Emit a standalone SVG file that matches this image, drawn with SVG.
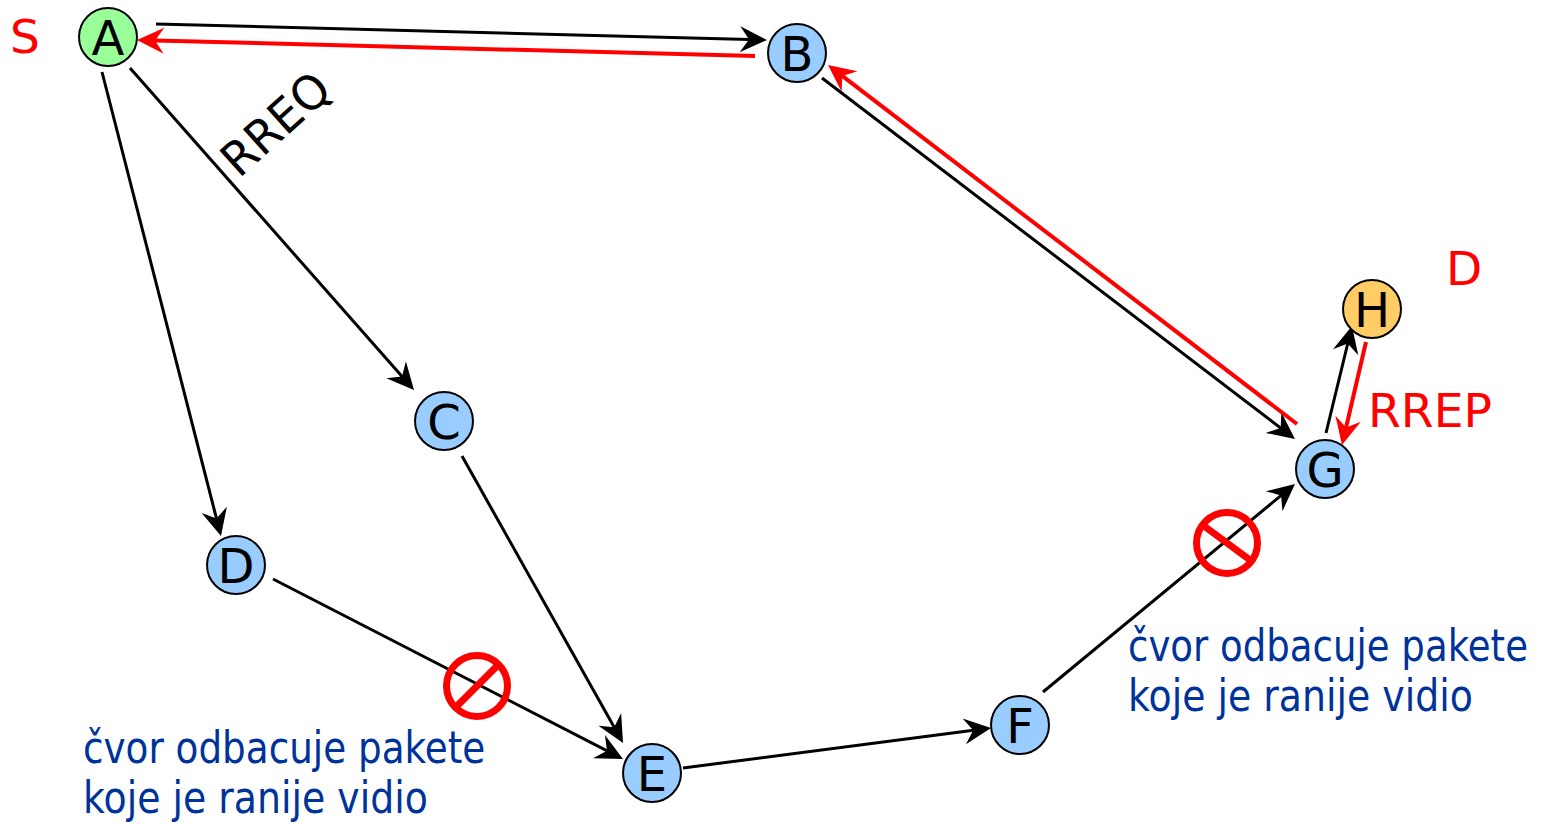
<svg xmlns="http://www.w3.org/2000/svg" width="1542" height="824" viewBox="0 0 1542 824">
<style>
.nd{stroke:#000;stroke-width:2}
.lb{font-family:"DejaVu Sans","Liberation Sans",sans-serif;font-size:48px;text-anchor:middle;fill:#000}
.rt{font-family:"DejaVu Sans","Liberation Sans",sans-serif;font-size:47px;fill:#FF0000}
.bt{font-family:"DejaVu Sans","Liberation Sans",sans-serif;font-size:44px;fill:#003399}
.k{stroke:#000;stroke-width:3;fill:none;marker-end:url(#ab)}
.r{stroke:#FF0000;stroke-width:4;fill:none;marker-end:url(#ar)}
.no{stroke:#FF0000;stroke-width:7;fill:none}
</style>
<defs>
<marker id="ab" markerUnits="userSpaceOnUse" viewBox="-22 -15 32 30" refX="0" refY="0" markerWidth="32" markerHeight="30" orient="auto"><path d="M8,0 L-19,-13 L-10,0 L-19,13 Z" fill="#000"/></marker>
<marker id="ar" markerUnits="userSpaceOnUse" viewBox="-22 -15 32 30" refX="0" refY="0" markerWidth="32" markerHeight="30" orient="auto"><path d="M8,0 L-19,-13 L-10,0 L-19,13 Z" fill="#FF0000"/></marker>
</defs>
<g id="connectors">
<line class="k" x1="156" y1="24" x2="759" y2="39.8"/>
<line class="r" x1="755" y1="56" x2="145" y2="40.2"/>
<line class="k" x1="130" y1="68" x2="408.7" y2="384"/>
<line class="k" x1="102" y1="72" x2="219" y2="528.3"/>
<line class="k" x1="822" y1="78" x2="1288.6" y2="434.1"/>
<line class="r" x1="1297" y1="424" x2="834.4" y2="69.9"/>
<line class="k" x1="1326" y1="433" x2="1350.1" y2="333.8"/>
<line class="r" x1="1366" y1="342" x2="1343.8" y2="437.2"/>
<line class="k" x1="462" y1="456" x2="619.1" y2="736"/>
<line class="k" x1="273" y1="579" x2="615.9" y2="755.3"/>
<line class="k" x1="683" y1="768" x2="983.1" y2="729"/>
<line class="k" x1="1043" y1="692" x2="1288.8" y2="489.1"/>
</g>
<g id="node-A"><circle class="nd" cx="108" cy="37" r="29" fill="#99FF99"/><text class="lb" x="108" y="54.5">A</text></g>
<g id="node-B"><circle class="nd" cx="797" cy="53" r="29" fill="#99CCFF"/><text class="lb" x="797" y="70.5">B</text></g>
<g id="node-C"><circle class="nd" cx="444" cy="421" r="29" fill="#99CCFF"/><text class="lb" x="444" y="438.5">C</text></g>
<g id="node-D"><circle class="nd" cx="236" cy="565" r="29" fill="#99CCFF"/><text class="lb" x="236" y="582.5">D</text></g>
<g id="node-E"><circle class="nd" cx="652" cy="773" r="29" fill="#99CCFF"/><text class="lb" x="652" y="790.5">E</text></g>
<g id="node-F"><circle class="nd" cx="1020" cy="725" r="29" fill="#99CCFF"/><text class="lb" x="1020" y="742.5">F</text></g>
<g id="node-G"><circle class="nd" cx="1325" cy="469" r="29" fill="#99CCFF"/><text class="lb" x="1325" y="486.5">G</text></g>
<g id="node-H"><circle class="nd" cx="1372" cy="309" r="29" fill="#FFCC66"/><text class="lb" x="1372" y="326.5">H</text></g>
<g id="labels">
<text class="rt" x="10" y="53">S</text>
<text class="rt" x="1446" y="285">D</text>
<text class="rt" x="1368" y="427" textLength="124" lengthAdjust="spacingAndGlyphs">RREP</text>
<text font-family="DejaVu Sans, Liberation Sans, sans-serif" font-size="47" fill="#000" x="239" y="179" transform="rotate(-42 239 179)" textLength="128" lengthAdjust="spacingAndGlyphs">RREQ</text>
<text class="bt" transform="translate(83 763) scale(0.848 1)">čvor odbacuje pakete</text>
<text class="bt" transform="translate(83 813) scale(0.86 1)">koje je ranije vidio</text>
<text class="bt" transform="translate(1128 661) scale(0.843 1)">čvor odbacuje pakete</text>
<text class="bt" transform="translate(1128 711) scale(0.86 1)">koje je ranije vidio</text>
</g>
<g id="blocked-1"><circle class="no" cx="477" cy="686" r="30.5"/><line class="no" x1="497" y1="666" x2="457" y2="706"/></g>
<g id="blocked-2"><circle class="no" cx="1227" cy="543" r="30.5"/><line class="no" x1="1204" y1="526" x2="1250" y2="560"/></g>
</svg>
